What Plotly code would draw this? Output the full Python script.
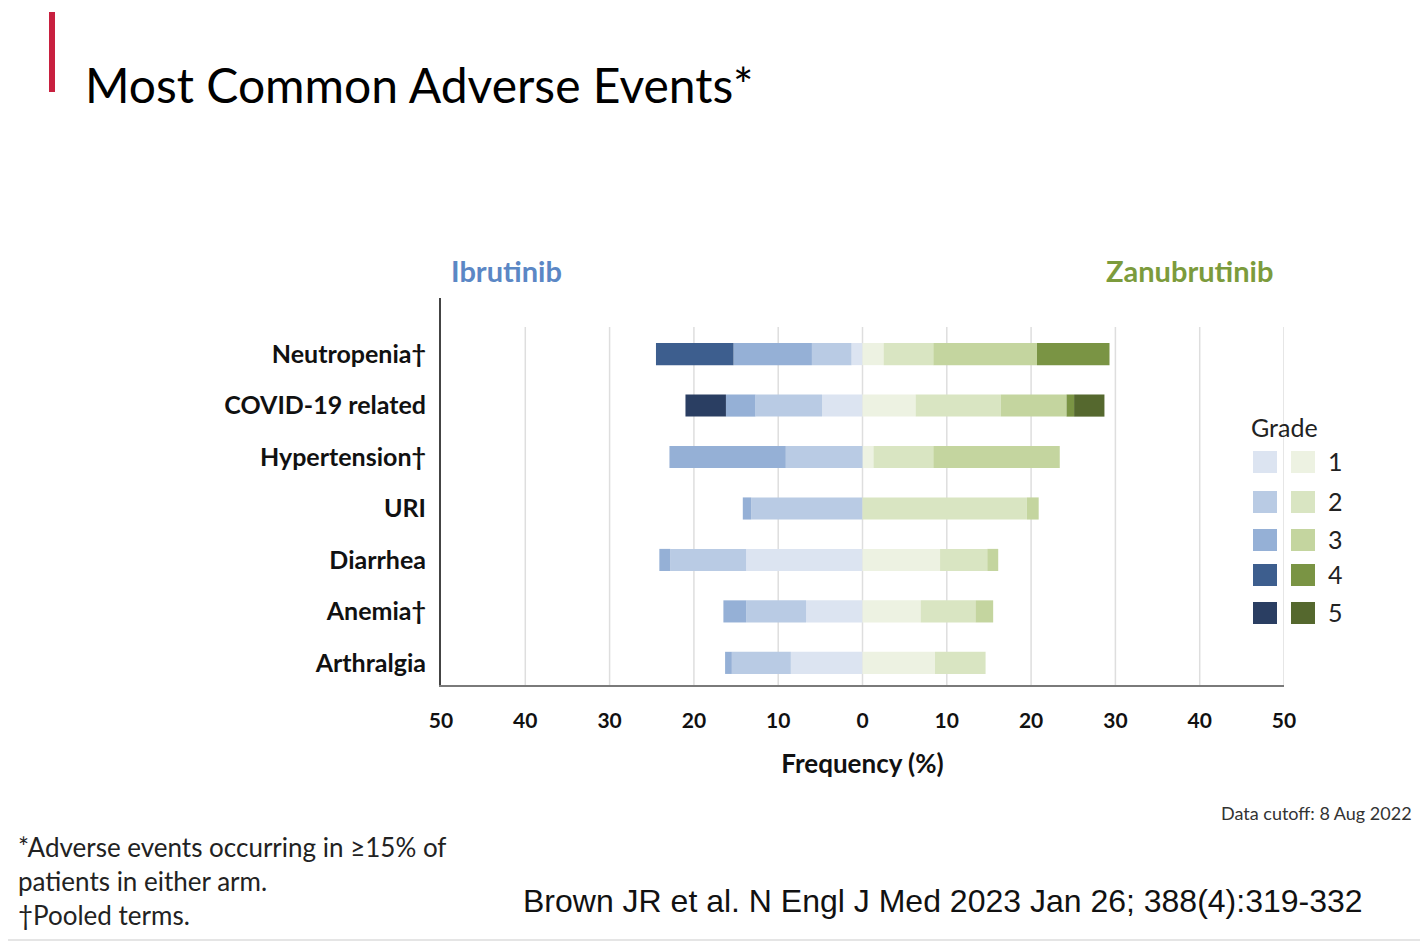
import plotly.graph_objects as go

# adverse events, top to bottom
events = ["Neutropenia†", "COVID-19 related", "Hypertension†", "URI",
          "Diarrhea", "Anemia†", "Arthralgia"]
grades = ["1", "2", "3", "4", "5"]

# frequency (%) by grade, one list per grade, values per event
ibru = {
    "1": [1.3, 4.8, 0.0, 0.0, 13.8, 6.7, 8.5],
    "2": [4.7, 7.9, 9.1, 13.2, 9.0, 7.1, 7.0],
    "3": [9.3, 3.5, 13.8, 1.0, 1.3, 2.7, 0.8],
    "4": [9.2, 0.0, 0.0, 0.0, 0.0, 0.0, 0.0],
    "5": [0.0, 4.8, 0.0, 0.0, 0.0, 0.0, 0.0],
}
zanu = {
    "1": [2.5, 6.3, 1.3, 0.0, 9.2, 6.9, 8.6],
    "2": [5.9, 10.1, 7.1, 19.5, 5.6, 6.5, 6.0],
    "3": [12.3, 7.8, 15.0, 1.4, 1.3, 2.1, 0.0],
    "4": [8.6, 0.9, 0.0, 0.0, 0.0, 0.0, 0.0],
    "5": [0.0, 3.6, 0.0, 0.0, 0.0, 0.0, 0.0],
}
xticks = [-50, -40, -30, -20, -10, 0, 10, 20, 30, 40, 50]

blues = ["#dce4f1", "#b9cbe4", "#95b0d6", "#3d5e8e", "#2a3e62"]
greens = ["#edf2e2", "#d9e5c2", "#c4d59f", "#7a9444", "#55682e"]

FONT = "Lato"

# plot area in screen pixels (page has an 8px body margin)
PL, PR, PT, PB = 441, 1284, 298, 685
PW, PH = PR - PL, PB - PT
W, H = 1428, 942


def px(x):
    return (x - PL) / PW


def py(y):
    return (PB - y) / PH


fig = go.Figure()
for i, g in enumerate(grades):
    fig.add_trace(go.Bar(
        y=events, x=[-v for v in ibru[g]], orientation="h",
        marker=dict(color=blues[i], line=dict(width=0)),
        width=0.43, showlegend=False, name="Ibrutinib grade " + g,
    ))
    fig.add_trace(go.Bar(
        y=events, x=zanu[g], orientation="h",
        marker=dict(color=greens[i], line=dict(width=0)),
        width=0.43, showlegend=False, name="Zanubrutinib grade " + g,
    ))

# vertical gridlines (start a bit below the top of the plot area)
shapes = []
for t in xticks[1:]:
    shapes.append(dict(type="line", xref="x", yref="paper", x0=t, x1=t,
                       y0=0, y1=py(327), line=dict(color="#dedede", width=1.5),
                       layer="below"))

# red accent bar by the title
shapes.append(dict(type="rect", xref="paper", yref="paper",
                   x0=px(49), x1=px(55), y0=py(92), y1=py(12),
                   fillcolor="#c8203f", line=dict(width=0)))
# faint line along the bottom edge
shapes.append(dict(type="line", xref="paper", yref="paper",
                   x0=px(0), x1=px(1428), y0=py(940), y1=py(940),
                   line=dict(color="#dddddd", width=1.5)))

annotations = [
    dict(text="Most Common Adverse Events*", xref="paper", yref="paper",
         x=px(83), y=py(84), xanchor="left", yanchor="middle",
         showarrow=False, font=dict(family=FONT, size=48, color="#000")),
    dict(text="<b>Ibrutinib</b>", xref="paper", yref="paper",
         x=px(506), y=py(270), xanchor="center", yanchor="middle",
         showarrow=False, font=dict(family=FONT, size=29, color="#5b87c5")),
    dict(text="<b>Zanubrutinib</b>", xref="paper", yref="paper",
         x=px(1189), y=py(270), xanchor="center", yanchor="middle",
         showarrow=False, font=dict(family=FONT, size=29, color="#7c9b3c")),
    dict(text="Data cutoff: 8 Aug 2022", xref="paper", yref="paper",
         x=px(1414), y=py(813), xanchor="right", yanchor="middle",
         showarrow=False, font=dict(family=FONT, size=18, color="#333")),
    dict(text="Brown JR et al. N Engl J Med 2023 Jan 26; 388(4):319-332",
         xref="paper", yref="paper",
         x=px(521), y=py(901), xanchor="left", yanchor="middle",
         showarrow=False, font=dict(family="Liberation Sans", size=32, color="#111")),
    dict(text="*Adverse events occurring in ≥15% of<br>patients in either arm.<br>†Pooled terms.",
         xref="paper", yref="paper", align="left",
         x=px(16), y=py(881), xanchor="left", yanchor="middle",
         showarrow=False, font=dict(family=FONT, size=26, color="#222")),
    dict(text="Grade", xref="paper", yref="paper",
         x=px(1249), y=py(427), xanchor="left", yanchor="middle",
         showarrow=False, font=dict(family=FONT, size=25, color="#222")),
]

# custom grade legend
row_y = [462, 502, 540, 575, 613]
for i, g in enumerate(grades):
    yc = py(row_y[i])
    for cx, cols in ((1265, blues), (1303, greens)):
        shapes.append(dict(type="rect", xref="paper", yref="paper",
                           x0=px(cx - 12), x1=px(cx + 12),
                           y0=yc - 11 / PH, y1=yc + 11 / PH,
                           fillcolor=cols[i], line=dict(width=0)))
    annotations.append(dict(text=g, xref="paper", yref="paper",
                            x=px(1326), y=yc + 1 / PH, xanchor="left", yanchor="middle",
                            showarrow=False, font=dict(family=FONT, size=25, color="#222")))

fig.update_layout(
    barmode="relative",
    width=W, height=H, autosize=False,
    margin=dict(l=PL - 8, r=W - PR + 8, t=PT - 8, b=H - PB + 8),
    paper_bgcolor="white", plot_bgcolor="white",
    shapes=shapes, annotations=annotations,
    font=dict(family=FONT, color="#111"),
)
fig.update_xaxes(
    range=[-50, 50], tickvals=xticks,
    ticktext=["<b>%d</b>" % abs(t) for t in xticks],
    tickfont=dict(family=FONT, size=21, color="#111"),
    showgrid=False, zeroline=False,
    showline=True, linecolor="#7a7a7a", linewidth=2,
    ticks="outside", ticklen=16, tickcolor="rgba(0,0,0,0)",
    title=dict(text="<b>Frequency (%)</b>", font=dict(family=FONT, size=26, color="#111"),
               standoff=24),
)
fig.update_yaxes(
    categoryorder="array", categoryarray=events,
    range=[6.43, -1.09],
    ticktext=["<b>%s</b>" % e for e in events], tickvals=events,
    tickfont=dict(family=FONT, size=25, color="#111"),
    showgrid=False, zeroline=False,
    showline=True, linecolor="#444", linewidth=2,
    ticks="outside", ticklen=8, tickcolor="rgba(0,0,0,0)",
)

fig.write_html("out.html")
